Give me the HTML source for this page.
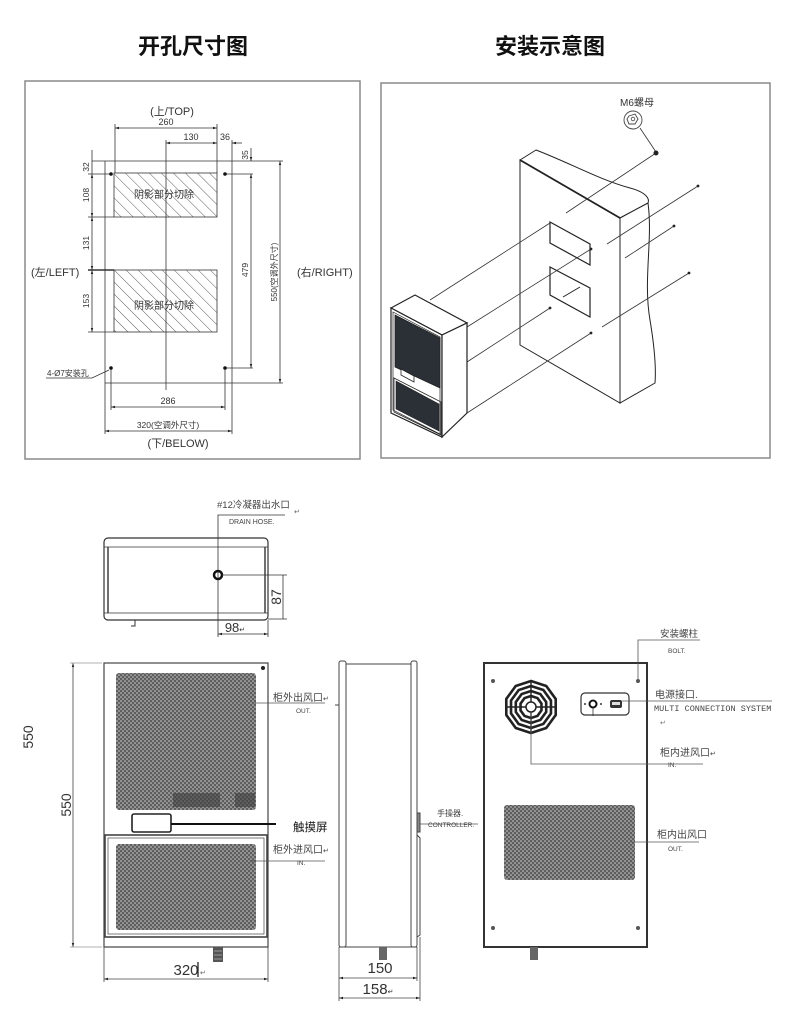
<!DOCTYPE html>
<html><head><meta charset="utf-8">
<style>
html,body{margin:0;padding:0;background:#fff;}
svg{display:block;}
text{font-family:"Liberation Sans","Noto Sans CJK SC",sans-serif;fill:#333;}
.mono{font-family:"Liberation Mono","Noto Sans CJK SC",monospace;}
</style></head>
<body>
<svg width="790" height="1026" viewBox="0 0 790 1026" xmlns="http://www.w3.org/2000/svg">
<defs>
<marker id="ar" viewBox="0 0 10 10" refX="10" refY="5" markerWidth="5" markerHeight="5" orient="auto-start-reverse"><path d="M0,2 L10,5 L0,8z" fill="#222"/></marker>
<pattern id="hatch" width="8.5" height="10" patternUnits="userSpaceOnUse" patternTransform="rotate(-45)"><line x1="0" y1="0" x2="0" y2="10" stroke="#333" stroke-width="0.8"/></pattern>
<pattern id="grill" width="4" height="4" patternUnits="userSpaceOnUse"><rect width="4" height="4" fill="#5e5e5e"/><circle cx="1" cy="1" r="0.8" fill="#cfcfcf"/><circle cx="3" cy="3" r="0.8" fill="#cfcfcf"/></pattern>
</defs>

<!-- Titles -->
<text x="193" y="54" font-size="22" font-weight="bold" text-anchor="middle" style="fill:#111">开孔尺寸图</text>
<text x="550" y="54" font-size="22" font-weight="bold" text-anchor="middle" style="fill:#111">安装示意图</text>

<!-- ===== Panel 1 ===== -->
<rect x="25" y="81" width="335" height="378" fill="none" stroke="#8a8a8a" stroke-width="1.5"/>
<g stroke="#333" stroke-width="0.8" fill="none">
  <line x1="115" y1="124" x2="115" y2="173"/>
  <line x1="217" y1="124" x2="217" y2="173"/>
  <line x1="115" y1="128" x2="217" y2="128" marker-start="url(#ar)" marker-end="url(#ar)"/>
  <line x1="166" y1="143" x2="217" y2="143" marker-start="url(#ar)" marker-end="url(#ar)"/>
  <line x1="166" y1="140" x2="166" y2="390"/>
  <line x1="242" y1="143" x2="232" y2="143" marker-end="url(#ar)"/>
  <line x1="232" y1="140" x2="232" y2="434"/>
  <line x1="92" y1="161" x2="283" y2="161"/>
  <line x1="105" y1="161" x2="105" y2="434"/>
  <line x1="105" y1="383" x2="283" y2="383"/>
  <rect x="114" y="173" width="103" height="44" fill="url(#hatch)"/>
  <rect x="114" y="270" width="103" height="62" fill="url(#hatch)"/>
  <line x1="92" y1="150" x2="92" y2="161"/>
  <line x1="92" y1="161" x2="92" y2="174"/>
  <line x1="92" y1="174" x2="92" y2="217" marker-start="url(#ar)" marker-end="url(#ar)"/>
  <line x1="92" y1="217" x2="92" y2="270" marker-start="url(#ar)" marker-end="url(#ar)"/>
  <line x1="92" y1="270" x2="92" y2="332" marker-start="url(#ar)" marker-end="url(#ar)"/>
  <line x1="88" y1="174" x2="111" y2="174"/>
  <line x1="88" y1="217" x2="114" y2="217"/>
  <line x1="88" y1="270" x2="114" y2="270" stroke-width="1.4"/>
  <line x1="88" y1="332" x2="114" y2="332"/>
  <line x1="225" y1="174" x2="253" y2="174"/>
  <line x1="251" y1="174" x2="251" y2="368" marker-start="url(#ar)" marker-end="url(#ar)"/>
  <line x1="225" y1="368" x2="253" y2="368"/>
  <line x1="251" y1="148" x2="251" y2="161" marker-end="url(#ar)"/>
  <line x1="280" y1="161" x2="280" y2="383" marker-start="url(#ar)" marker-end="url(#ar)"/>
  <line x1="111" y1="368" x2="111" y2="410"/>
  <line x1="225" y1="368" x2="225" y2="410"/>
  <line x1="111" y1="407" x2="225" y2="407" marker-start="url(#ar)" marker-end="url(#ar)"/>
  <line x1="105" y1="431" x2="232" y2="431" marker-start="url(#ar)" marker-end="url(#ar)"/>
  <polyline points="46,378 92,378 109,370"/>
</g>
<g fill="#111">
  <circle cx="111" cy="174" r="1.8"/><circle cx="225" cy="174" r="1.8"/>
  <circle cx="111" cy="368" r="1.8"/><circle cx="225" cy="368" r="1.8"/>
</g>
<text x="172" y="115" font-size="11" text-anchor="middle">(上/TOP)</text>
<text x="166" y="125" font-size="9" text-anchor="middle">260</text>
<text x="191" y="140" font-size="9" text-anchor="middle">130</text>
<text x="225" y="140" font-size="9" text-anchor="middle">36</text>
<text x="164" y="198" font-size="10" text-anchor="middle">阴影部分切除</text>
<text x="164" y="309" font-size="10" text-anchor="middle">阴影部分切除</text>
<text x="31" y="276" font-size="11">(左/LEFT)</text>
<text x="297" y="276" font-size="11">(右/RIGHT)</text>
<text font-size="8.5" text-anchor="middle" transform="translate(89,167) rotate(-90)">32</text>
<text font-size="8.5" text-anchor="middle" transform="translate(89,195) rotate(-90)">108</text>
<text font-size="8.5" text-anchor="middle" transform="translate(89,243) rotate(-90)">131</text>
<text font-size="8.5" text-anchor="middle" transform="translate(89,301) rotate(-90)">153</text>
<text font-size="8.5" text-anchor="middle" transform="translate(248,155) rotate(-90)">35</text>
<text font-size="8.5" text-anchor="middle" transform="translate(248,270) rotate(-90)">479</text>
<text font-size="8" text-anchor="middle" transform="translate(277,272) rotate(-90)">550(空调外尺寸)</text>
<text x="168" y="404" font-size="9" text-anchor="middle">286</text>
<text x="168" y="428" font-size="8.5" text-anchor="middle">320(空调外尺寸)</text>
<text x="178" y="447" font-size="11" text-anchor="middle">(下/BELOW)</text>
<text x="47" y="376" font-size="8">4-Ø7安装孔</text>

<!-- ===== Panel 2 ===== -->
<rect x="381" y="83" width="389" height="375" fill="none" stroke="#8a8a8a" stroke-width="1.5"/>
<g stroke="#222" stroke-width="1" fill="#fff">
  <polygon points="520,160 620,218 620,403 520,345"/>
  <path d="M520,160 L536,150 C570,163 600,180 630,188 C645,192 650,198 648,203 L620,218 Z"/>
  <path d="M620,218 L648,203 C653,240 643,280 650,320 C655,350 656,370 655,383 L620,403 Z"/>
  <line x1="520" y1="160" x2="620" y2="218" stroke-width="1.8"/>
  <polygon points="550,222 590,244 590,265 550,243" fill="none" stroke-width="1.2"/>
  <polygon points="550,267 590,288 590,317 550,295" fill="none" stroke-width="1.2"/>
  <line x1="563" y1="297" x2="580" y2="287"/>
</g>
<g stroke="#333" stroke-width="0.8">
  <line x1="656" y1="153" x2="566" y2="213"/>
  <line x1="698" y1="186" x2="607" y2="244"/>
  <line x1="674" y1="226" x2="625" y2="258"/>
  <line x1="689" y1="273" x2="602" y2="327"/>
  <line x1="430" y1="300" x2="550" y2="223"/>
  <line x1="467" y1="327" x2="591" y2="249"/>
  <line x1="467" y1="362" x2="550" y2="308"/>
  <line x1="467" y1="413" x2="591" y2="333"/>
  <line x1="640" y1="128" x2="656" y2="152"/>
</g>
<g fill="#222">
  <circle cx="656" cy="153" r="2.5"/>
  <circle cx="698" cy="186" r="1.4"/><circle cx="674" cy="226" r="1.4"/><circle cx="689" cy="273" r="1.4"/>
  <circle cx="591" cy="249" r="1.4"/><circle cx="550" cy="308" r="1.4"/><circle cx="591" cy="333" r="1.4"/>
</g>
<circle cx="633" cy="120" r="9" fill="#fff" stroke="#444" stroke-width="0.9"/>
<polygon points="629,116 635,114 638,119 635,124 629,124 627,119" fill="#fff" stroke="#444" stroke-width="0.9"/>
<circle cx="633" cy="119" r="1.8" fill="none" stroke="#444" stroke-width="0.8"/>
<text x="637" y="106" font-size="10" text-anchor="middle">M6螺母</text>
<g stroke="#222" stroke-width="1.2" fill="#fff">
  <polygon points="391,308 415,295 467,323 442,335"/>
  <polygon points="391,308 442,335 442,437 391,413"/>
  <polygon points="442,335 467,323 467,413 442,437"/>
  <polygon points="393,312 440,337 440,434 393,410" fill="none" stroke-width="0.7"/>
  <polygon points="395,315 440,338 440,388 395,367" fill="#2b2f36" stroke-width="0.8"/>
  <polygon points="401,369 414,376 414,382 401,375" fill="#fff" stroke-width="0.8"/>
  <polygon points="394,378 441,402 441,435 394,412" fill="none" stroke-width="0.8"/>
  <polygon points="396,381 439,404 439,431 396,409" fill="#2b2f36" stroke-width="0.6"/>
</g>

<!-- ===== Top view (drain) ===== -->
<g stroke="#333" fill="none">
  <rect x="104" y="538" width="164" height="82" rx="4" stroke-width="1.2"/>
  <line x1="104" y1="547" x2="268" y2="547" stroke-width="0.8"/>
  <line x1="104" y1="613" x2="268" y2="613" stroke-width="0.8"/>
  <line x1="108" y1="547" x2="108" y2="613" stroke-width="1.4"/>
  <line x1="265" y1="547" x2="265" y2="613" stroke-width="1.4"/>
  <polyline points="285,515 218,515 218,637" stroke-width="0.8"/>
  <circle cx="218" cy="575" r="4" stroke="#111" stroke-width="2.5"/>
  <line x1="222" y1="575" x2="287" y2="575" stroke-width="0.8"/>
  <line x1="283" y1="575" x2="283" y2="619" stroke-width="0.8"/>
  <line x1="268" y1="619" x2="287" y2="619" stroke-width="0.8"/>
  <line x1="268" y1="620" x2="268" y2="637" stroke-width="0.8"/>
  <line x1="218" y1="634" x2="268" y2="634" stroke-width="0.8" marker-start="url(#ar)" marker-end="url(#ar)"/>
  <polyline points="135,620 135,626 131,626" stroke-width="1"/>
</g>
<text x="217" y="508" font-size="9.5" style="fill:#444">#12冷凝器出水口</text>
<text x="294" y="514" font-size="7" style="fill:#666">↵</text>
<text x="229" y="524" font-size="7" style="fill:#444">DRAIN HOSE.</text>
<text font-size="14" text-anchor="middle" transform="translate(281,597) rotate(-90)">87</text>
<text x="235" y="632" font-size="13" text-anchor="middle">98<tspan font-size="7">↵</tspan></text>

<!-- ===== Front view ===== -->
<g stroke="#444" fill="none">
  <rect x="104" y="663" width="164" height="284" stroke-width="1.2"/>
  <rect x="105" y="835" width="162" height="102" stroke-width="1.6"/>
  <rect x="108" y="838" width="156" height="96" stroke-width="0.7"/>
</g>
<rect x="116" y="673" width="140" height="137" rx="3" fill="url(#grill)"/>
<rect x="173" y="793" width="47" height="14" fill="#3e3e3e" opacity="0.6"/>
<rect x="235" y="793" width="20" height="14" fill="#3e3e3e" opacity="0.6"/>
<rect x="116" y="844" width="140" height="86" rx="3" fill="url(#grill)"/>
<circle cx="263" cy="668" r="2" fill="#222"/>
<rect x="132" y="814" width="39" height="18" rx="2" fill="#fff" stroke="#222" stroke-width="1.6"/>
<line x1="171" y1="824" x2="276" y2="824" stroke="#111" stroke-width="2"/>
<text x="293" y="831" font-size="11.5" style="fill:#111">触摸屏</text>
<line x1="255" y1="703" x2="325" y2="703" stroke="#555" stroke-width="0.8"/>
<text x="273" y="701" font-size="10" style="fill:#444">柜外出风口<tspan font-size="7">↵</tspan></text>
<text x="296" y="713" font-size="6.5" style="fill:#444">OUT.</text>
<line x1="250" y1="861" x2="325" y2="861" stroke="#555" stroke-width="0.8"/>
<text x="273" y="853" font-size="10" style="fill:#444">柜外进风口<tspan font-size="7">↵</tspan></text>
<text x="297" y="865" font-size="6.5" style="fill:#444">IN.</text>
<g fill="#555"><rect x="213" y="947" width="10" height="15"/></g>
<g stroke="#ccc" stroke-width="0.6"><line x1="214" y1="951" x2="222" y2="951"/><line x1="214" y1="955" x2="222" y2="955"/><line x1="214" y1="959" x2="222" y2="959"/></g>
<g stroke="#444" stroke-width="0.8" fill="none">
  <line x1="104" y1="947" x2="104" y2="982"/>
  <line x1="268" y1="947" x2="268" y2="982"/>
  <line x1="104" y1="979" x2="268" y2="979" marker-start="url(#ar)" marker-end="url(#ar)"/>
  <line x1="73" y1="663" x2="73" y2="947" marker-start="url(#ar)" marker-end="url(#ar)"/>
  <line x1="70" y1="663" x2="102" y2="663" stroke="#999"/>
  <line x1="70" y1="947" x2="102" y2="947" stroke="#999"/>
  <line x1="198" y1="962" x2="198" y2="977" stroke="#111" stroke-width="1.2"/>
</g>
<text x="186" y="975" font-size="15" text-anchor="middle">320</text>
<text x="200" y="975" font-size="7" style="fill:#666">↵</text>
<text font-size="14" text-anchor="middle" transform="translate(71,805) rotate(-90)">550</text>
<text font-size="14" text-anchor="middle" transform="translate(33,737) rotate(-90)">550</text>

<!-- ===== Side view ===== -->
<g stroke="#444" fill="#fff" stroke-width="1">
  <rect x="339" y="661" width="7" height="286" rx="2"/>
  <rect x="411" y="661" width="6" height="286" rx="2"/>
  <line x1="346" y1="664" x2="411" y2="664"/>
  <line x1="339" y1="947" x2="417" y2="947"/>
  <path d="M417,835 L420,838 L420,935 L417,937" fill="none"/>
  <rect x="417" y="813" width="3" height="19" fill="#888"/>
</g>
<line x1="420" y1="824" x2="478" y2="824" stroke="#555" stroke-width="0.8"/>
<line x1="335" y1="705" x2="339" y2="705" stroke="#444" stroke-width="1"/>
<text x="437" y="816" font-size="8" style="fill:#444">手操器.</text>
<text x="428" y="827" font-size="6.5" style="fill:#444">CONTROLLER.</text>
<rect x="379" y="947" width="8" height="13" fill="#666"/>
<g stroke="#444" stroke-width="0.8" fill="none">
  <line x1="339" y1="947" x2="339" y2="1001"/>
  <line x1="417" y1="947" x2="417" y2="981"/>
  <line x1="420" y1="937" x2="420" y2="1001"/>
  <line x1="339" y1="978" x2="417" y2="978" marker-start="url(#ar)" marker-end="url(#ar)"/>
  <line x1="339" y1="998" x2="420" y2="998" marker-start="url(#ar)" marker-end="url(#ar)"/>
</g>
<text x="380" y="973" font-size="15" text-anchor="middle">150</text>
<text x="378" y="994" font-size="15" text-anchor="middle">158<tspan font-size="7">↵</tspan></text>

<!-- ===== Back view ===== -->
<rect x="484" y="663" width="163" height="284" fill="none" stroke="#333" stroke-width="2"/>
<g fill="#555">
  <circle cx="493" cy="681" r="2"/><circle cx="638" cy="681" r="2"/>
  <circle cx="493" cy="928" r="2"/><circle cx="638" cy="928" r="2"/>
</g>
<polyline points="638,679 638,640 700,640" fill="none" stroke="#555" stroke-width="0.8"/>
<text x="660" y="637" font-size="9.5" style="fill:#444">安装螺柱</text>
<text x="668" y="653" font-size="6.5" style="fill:#444">BOLT.</text>
<g transform="translate(531,707)" fill="none" stroke="#222">
  <polygon points="26,0 21.0,15.3 8.0,24.7 -8.0,24.7 -21.0,15.3 -26,0 -21.0,-15.3 -8.0,-24.7 8.0,-24.7 21.0,-15.3" stroke-width="2.6" transform="rotate(18)"/>
  <polygon points="21,0 17.0,12.3 6.5,20.0 -6.5,20.0 -17.0,12.3 -21,0 -17.0,-12.3 -6.5,-20.0 6.5,-20.0 17.0,-12.3" stroke-width="2.6" transform="rotate(18)"/>
  <polygon points="16,0 12.9,9.4 4.9,15.2 -4.9,15.2 -12.9,9.4 -16,0 -12.9,-9.4 -4.9,-15.2 4.9,-15.2 12.9,-9.4" stroke-width="2.6" transform="rotate(18)"/>
  <polygon points="11,0 8.9,6.5 3.4,10.5 -3.4,10.5 -8.9,6.5 -11,0 -8.9,-6.5 -3.4,-10.5 3.4,-10.5 8.9,-6.5" stroke-width="2.6" transform="rotate(18)"/>
  <circle r="5" stroke-width="1.5"/>
  <g stroke-width="1.4">
    <line x1="0" y1="-5" x2="0" y2="-26"/><line x1="0" y1="5" x2="0" y2="26"/>
    <line x1="5" y1="0" x2="26" y2="0"/><line x1="-5" y1="0" x2="-26" y2="0"/>
  </g>
</g>
<polyline points="531,712 531,764 703,764" fill="none" stroke="#555" stroke-width="0.8"/>
<text x="660" y="756" font-size="10" style="fill:#444">柜内进风口<tspan font-size="7">↵</tspan></text>
<text x="668" y="767" font-size="6.5" style="fill:#444">IN.</text>
<rect x="581" y="693" width="48" height="22" rx="4" fill="none" stroke="#333" stroke-width="1.2"/>
<circle cx="593" cy="704" r="3.5" fill="none" stroke="#111" stroke-width="2"/>
<circle cx="585" cy="704" r="1" fill="#333"/><circle cx="601" cy="704" r="1" fill="#333"/>
<rect x="610" y="700" width="12" height="8" rx="2" fill="#333"/>
<rect x="612" y="702" width="8" height="3" fill="#ddd"/>
<line x1="593" y1="708" x2="593" y2="716" stroke="#333" stroke-width="0.8"/>
<line x1="622" y1="701" x2="772" y2="701" stroke="#555" stroke-width="0.8"/>
<text x="655" y="698" font-size="10" style="fill:#444">电源接口.</text>
<text x="654" y="711" font-size="8.5" class="mono" style="fill:#444">MULTI CONNECTION SYSTEM</text>
<text x="660" y="725" font-size="7" style="fill:#777">↵</text>
<line x1="647" y1="728" x2="647" y2="733" stroke="#333" stroke-width="1"/>
<rect x="504" y="805" width="131" height="75" rx="3" fill="url(#grill)"/>
<line x1="630" y1="842" x2="699" y2="842" stroke="#555" stroke-width="0.8"/>
<text x="657" y="838" font-size="10" style="fill:#444">柜内出风口</text>
<text x="668" y="851" font-size="6.5" style="fill:#444">OUT.</text>
<rect x="530" y="947" width="8" height="13" fill="#666"/>
</svg>
</body></html>
